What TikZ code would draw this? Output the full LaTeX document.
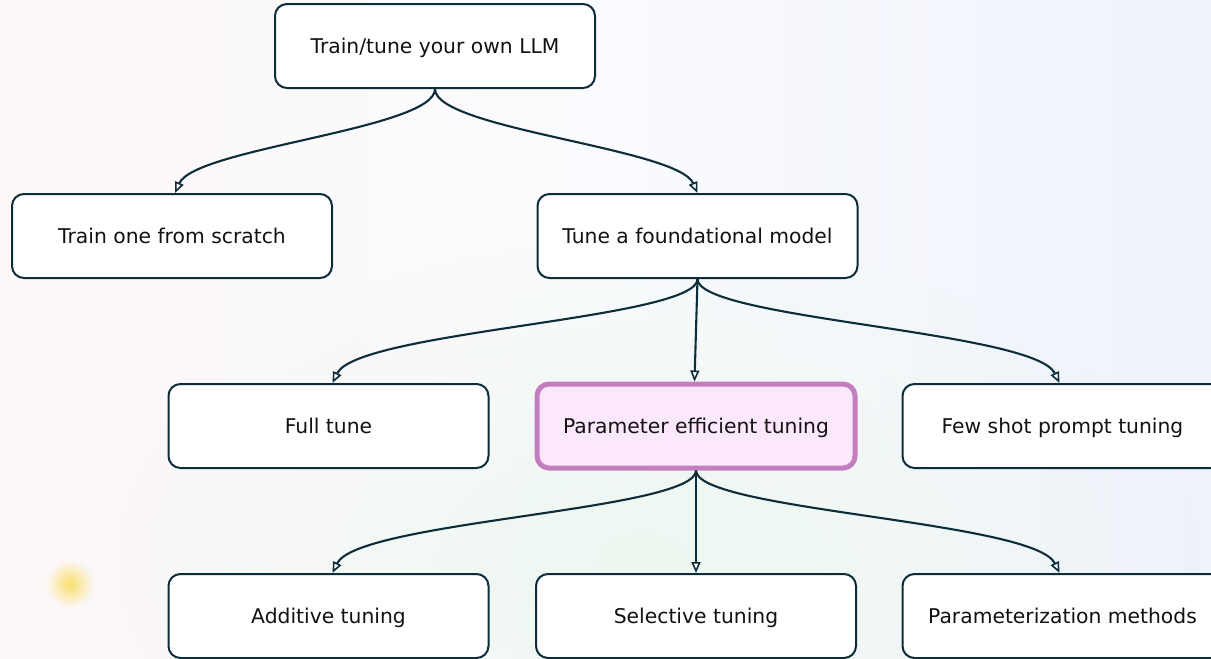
\documentclass[tikz,border=0pt]{standalone}
\usepackage{fontspec}
\setmainfont{DejaVu Sans}
\usetikzlibrary{arrows.meta,fadings}
\definecolor{edge}{HTML}{0E2D3B}
\definecolor{ink}{HTML}{121212}
\definecolor{hlfill}{HTML}{FCE8FC}
\definecolor{hldraw}{HTML}{C47EC0}
\definecolor{bgpink}{HTML}{FEF7F8}
\definecolor{bgblue}{HTML}{EEF2FB}
\definecolor{bggreen}{HTML}{EDF7F0}
\definecolor{glow}{HTML}{F8E06E}
\tikzfading[name=softspot, inner color=transparent!0, outer color=transparent!100]
\tikzset{
  box/.style={draw=edge, line width=2pt, fill=white, rounded corners=12pt,
    minimum width=320pt, minimum height=84pt, inner sep=0pt,
    text=ink, font=\fontsize{20.3}{24}\selectfont,
    text height=14.8pt, text depth=0pt},
  hlbox/.style={box, draw=hldraw, line width=5pt, fill=hlfill,
    minimum width=318pt, minimum height=84pt},
  conn/.style={draw=edge, line width=2.1pt,
    -{Triangle[length=11pt, width=9pt, fill=white, line width=1.6pt]}}
}
\begin{document}
\begin{tikzpicture}[x=1pt, y=-1pt]
  \useasboundingbox (0,0) rectangle (1211,659);
  \clip (0,0) rectangle (1211,659);
  % soft background wash
  \shade[left color=bgpink, right color=bgblue, middle color=white!70!bgblue] (0,0) rectangle (1211,659);
  \fill[bggreen, path fading=softspot] (640,560) ellipse (560 and 320);
  \fill[glow, path fading=softspot] (70,584) circle (24);

  % nodes
  \node[box] (root) at (435,46) {Train/tune your own LLM};
  \node[box] (scratch) at (172,236) {Train one from scratch};
  \node[box] (found) at (697.5,236) {Tune a foundational model};
  \node[box] (full) at (328.5,426) {Full tune};
  \node[hlbox] (peft) at (696,426) {Parameter efficient tuning};
  \node[box] (few) at (1062.5,426) {Few shot prompt tuning};
  \node[box] (add) at (328.5,616) {Additive tuning};
  \node[box] (sel) at (696,616) {Selective tuning};
  \node[box] (param) at (1062.5,616) {Parameterization methods};

  % connectors
  \draw[conn] (root.south) .. controls +(0,40) and +(20,-45) .. ([xshift=3pt]scratch.north);
  \draw[conn] (root.south) .. controls +(0,40) and +(-20,-45) .. (found.north);

  \draw[conn] (found.south) .. controls +(0,40) and +(25,-52) .. ([xshift=4pt]full.north);
  \draw[conn] (found.south) -- ([xshift=-1.5pt]peft.north);
  \draw[conn] (found.south) .. controls +(0,40) and +(-25,-52) .. ([xshift=-3pt]few.north);

  \draw[conn] (peft.south) .. controls +(0,40) and +(25,-52) .. ([xshift=4pt]add.north);
  \draw[conn] (peft.south) -- (sel.north);
  \draw[conn] (peft.south) .. controls +(0,40) and +(-25,-52) .. ([xshift=-3pt]param.north);
\end{tikzpicture}
\end{document}
